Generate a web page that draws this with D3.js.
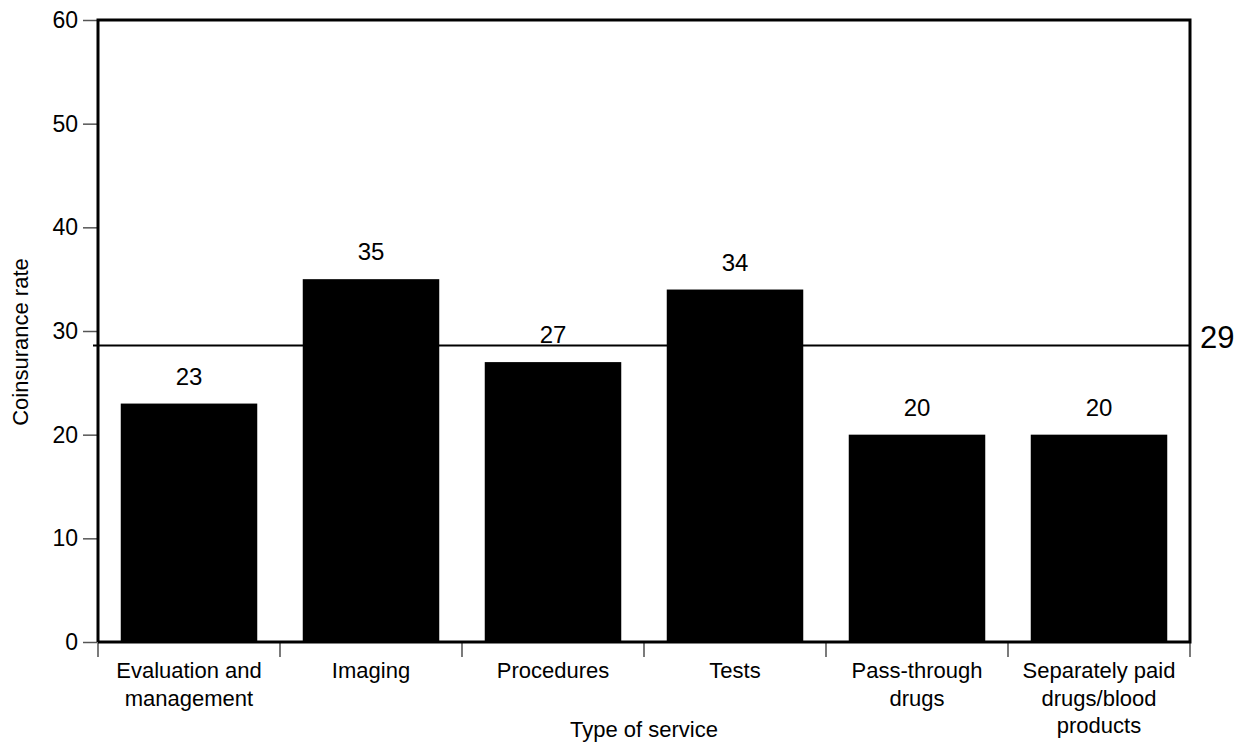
<!DOCTYPE html>
<html>
<head>
<meta charset="utf-8">
<script src="https://cdn.jsdelivr.net/npm/d3@7"></script>
<style>
  html, body { margin: 0; padding: 0; background: #fff; }
  svg { display: block; font-family: "Liberation Sans", Arial, sans-serif; }
</style>
</head>
<body>
<svg id="chart" width="1245" height="743"></svg>
<script>
// Coinsurance rate by type of service
const categories = [
  ["Evaluation and", "management"],
  ["Imaging"],
  ["Procedures"],
  ["Tests"],
  ["Pass-through", "drugs"],
  ["Separately paid", "drugs/blood", "products"]
];
const values = [23, 35, 27, 34, 20, 20];
const averageRate = 28.6;
const averageLabel = "29";
const yTicks = [0, 10, 20, 30, 40, 50, 60];

const svg = d3.select("#chart");
const margin = { left: 98, right: 1190, top: 20, bottom: 642 };

const keys = categories.map((d, i) => i);
const x = d3.scaleBand().domain(keys).range([margin.left, margin.right])
  .paddingInner(0.25).paddingOuter(0.125);
const xb = d3.scaleBand().domain(keys).range([margin.left, margin.right]);
const y = d3.scaleLinear().domain([0, 60]).range([margin.bottom, margin.top]);

// bars
svg.append("g").selectAll("rect").data(values).join("rect")
  .attr("x", (d, i) => x(i))
  .attr("y", d => y(d))
  .attr("width", x.bandwidth())
  .attr("height", d => y(0) - y(d))
  .attr("fill", "#000");

// value labels
svg.append("g").selectAll("text").data(values).join("text")
  .attr("x", (d, i) => x(i) + x.bandwidth() / 2)
  .attr("y", d => y(d) - 19)
  .attr("text-anchor", "middle")
  .attr("font-size", 24)
  .text(d => d);

// y axis ticks and labels
const yAxis = d3.axisLeft(y).tickValues(yTicks).tickSize(14).tickPadding(5);
const gy = svg.append("g").attr("transform", `translate(${margin.left - 1},0)`).call(yAxis);
gy.select(".domain").remove();
gy.selectAll(".tick line").attr("stroke", "#555").attr("stroke-width", 1.5);
gy.selectAll(".tick text").attr("font-size", 23).attr("fill", "#000")
  .attr("font-family", "Liberation Sans, Arial, sans-serif");

// x axis boundary ticks
const bounds = keys.map(i => xb(i)).concat([margin.right]);
svg.append("g").selectAll("line").data(bounds).join("line")
  .attr("x1", d => d).attr("x2", d => d)
  .attr("y1", margin.bottom).attr("y2", margin.bottom + 15)
  .attr("stroke", "#333").attr("stroke-width", 1.3);

// category labels
const cat = svg.append("g").selectAll("text").data(categories).join("text")
  .attr("x", (d, i) => xb(i) + xb.bandwidth() / 2)
  .attr("y", 678)
  .attr("text-anchor", "middle")
  .attr("font-size", 22);
cat.selectAll("tspan").data(d => d).join("tspan")
  .attr("x", function() { return d3.select(this.parentNode).attr("x"); })
  .attr("dy", (d, j) => j === 0 ? 0 : 27.5)
  .text(d => d);

// frame: left, top, right, bottom
svg.append("path")
  .attr("d", `M${margin.left},${margin.bottom}V${margin.top}H${margin.right}V${margin.bottom}H${margin.left}`)
  .attr("fill", "none").attr("stroke", "#000").attr("stroke-width", 3);

// average line
svg.append("line")
  .attr("x1", margin.left - 5).attr("x2", margin.right)
  .attr("y1", y(averageRate)).attr("y2", y(averageRate))
  .attr("stroke", "#000").attr("stroke-width", 2);
svg.append("text")
  .attr("x", margin.right + 10).attr("y", y(averageRate) + 2.5)
  .attr("font-size", 31)
  .text(averageLabel);

// axis titles
svg.append("text")
  .attr("transform", `translate(28,342) rotate(-90)`)
  .attr("text-anchor", "middle")
  .attr("font-size", 22)
  .text("Coinsurance rate");
svg.append("text")
  .attr("x", (margin.left + margin.right) / 2).attr("y", 737)
  .attr("text-anchor", "middle")
  .attr("font-size", 22)
  .text("Type of service");
</script>
</body>
</html>
